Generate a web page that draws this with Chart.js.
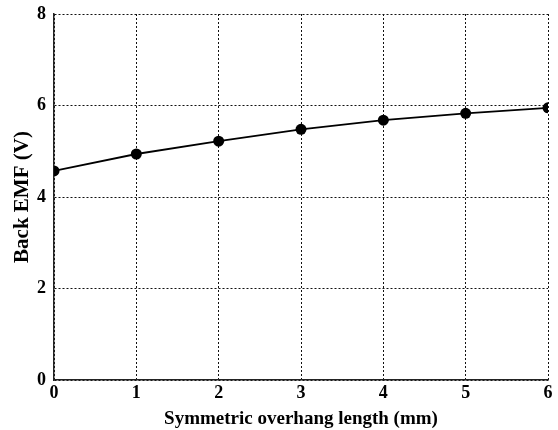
<!DOCTYPE html>
<html>
<head>
<meta charset="utf-8">
<script src="https://cdn.jsdelivr.net/npm/chart.js@4.4.1/dist/chart.umd.min.js"></script>
<style>
	html, body { margin: 0; padding: 0; background: #fff; }
	#wrap { width: 558px; height: 430px; }
</style>
</head>
<body>
<div id="wrap"><canvas id="emf"></canvas></div>
<script>
// Overhang length (mm) and measured back EMF (V)
const overhang = [0, 1, 2, 3, 4, 5, 6];
const backEmf = [4.57, 4.94, 5.22, 5.48, 5.68, 5.83, 5.95];

const xTitle = 'Symmetric overhang length (mm)';
const yTitle = 'Back EMF (V)';

const serif = '"Liberation Serif", "Times New Roman", serif';
Chart.defaults.font.family = serif;
Chart.defaults.color = '#000';

const context = document.getElementById('emf').getContext('2d');

const points = overhang.map((x, i) => ({ x: x, y: backEmf[i] }));

new Chart(context, {
	type: 'line',
	data: {
		datasets: [
			{
				data: points,
				borderColor: '#000',
				backgroundColor: '#000',
				borderWidth: 1.8,
				pointRadius: 5.5,
				pointBackgroundColor: '#000',
				pointBorderWidth: 0,
				tension: 0,
				fill: false
			}
		]
	},
	options: {
		responsive: true,
		maintainAspectRatio: false,
		animation: false,
		layout: { padding: { top: 14, right: 10, left: 0, bottom: 0 } },
		plugins: {
			legend: { display: false },
			tooltip: { enabled: false }
		},
		scales: {
			x: {
				type: 'linear',
				min: 0,
				max: 6,
				ticks: {
					stepSize: 1,
					padding: 3,
					font: { size: 18, weight: 'bold' }
				},
				// dotted grid, solid axis line
				grid: {
					color: '#111',
					lineWidth: 1,
					drawTicks: false
				},
				border: { display: true, color: '#222', width: 1.5, dash: [2, 2] },
				title: {
					display: true,
					text: xTitle,
					padding: { top: 0, bottom: 0 },
					font: { size: 19, weight: 'bold' }
				},
				afterFit: (scale) => { scale.height = 50; }
			},
			y: {
				min: 0,
				max: 8,
				ticks: {
					stepSize: 2,
					padding: 8,
					font: { size: 18, weight: 'bold', lineHeight: 1 }
				},
				grid: {
					color: '#111',
					lineWidth: 1,
					drawTicks: false
				},
				border: { display: true, color: '#222', width: 1.5, dash: [2, 2] },
				title: {
					display: true,
					text: yTitle,
					padding: { top: 10, bottom: 0 },
					font: { size: 21, weight: 'bold' }
				},
				afterFit: (scale) => {
					scale.width = 54;
					scale.paddingTop = 0;
				}
			}
		}
	}
});
</script>
</body>
</html>
